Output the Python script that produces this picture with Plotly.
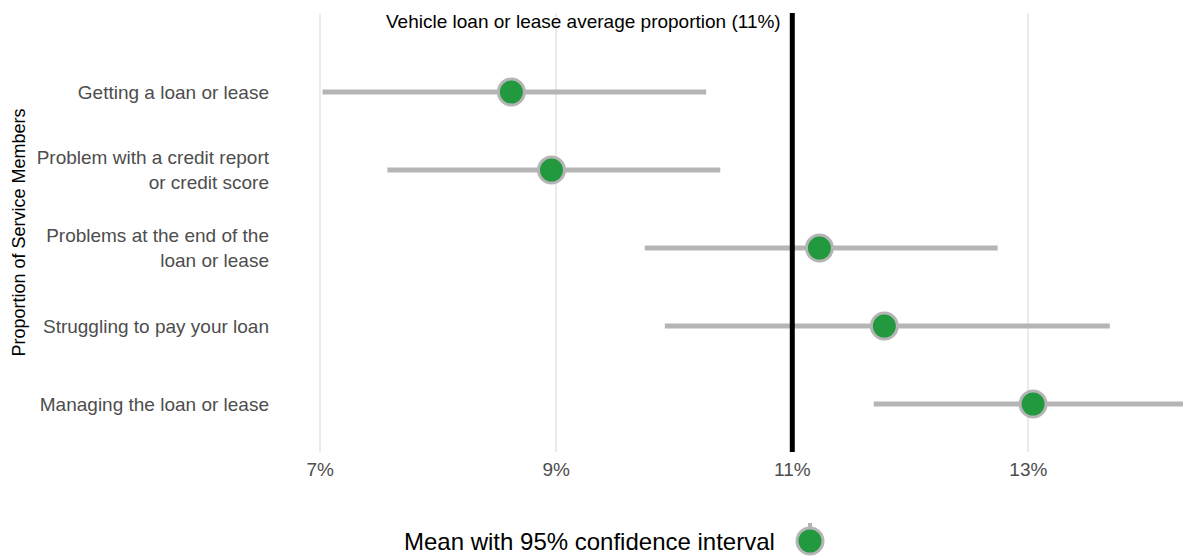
import plotly.graph_objects as go

categories = [
    "Getting a loan or lease",
    "Problem with a credit report<br>or credit score",
    "Problems at the end of the<br>loan or lease",
    "Struggling to pay your loan",
    "Managing the loan or lease",
]
means = [8.62, 8.96, 11.23, 11.78, 13.04]
lower = [7.02, 7.57, 9.75, 9.92, 11.69]
upper = [10.27, 10.39, 12.74, 13.69, 14.5]
average = 11.0
x_ticks = [7, 9, 11, 13]
x_tick_labels = [f"{v}%" for v in x_ticks]

positions = list(range(len(categories)))
err_plus = [u - m for u, m in zip(upper, means)]
err_minus = [m - l for m, l in zip(means, lower)]

FONT = "Liberation Sans, Arial, Helvetica, sans-serif"
GREEN = "#22983f"
GREY = "#b5b5b5"

W, H = 1183, 557
L, T = 280, 13
PW, PH = 903, 439
B = H - T - PH

fig = go.Figure()
fig.add_trace(go.Scatter(
    x=means, y=positions, mode="markers", name="",
    marker=dict(size=26, color=GREEN, line=dict(color=GREY, width=3)),
    error_x=dict(type="data", symmetric=False, array=err_plus, arrayminus=err_minus,
                 color=GREY, thickness=5, width=0),
    showlegend=False, cliponaxis=True,
))

fig.add_shape(type="line", x0=average, x1=average, xref="x", yref="paper", y0=0, y1=1,
              line=dict(color="black", width=5))

fig.add_annotation(x=average, y=-0.9, xref="x", yref="y", xanchor="right", yanchor="middle",
                   xshift=-9, text="Vehicle loan or lease average proportion (11%)",
                   showarrow=False, font=dict(family=FONT, size=19, color="black"))

fig.add_annotation(x=-(280 - 18) / PW, y=0.5, xref="paper", yref="paper", textangle=-90,
                   xanchor="center", yanchor="middle", text="Proportion of Service Members",
                   showarrow=False, font=dict(family=FONT, size=18, color="black"))

# legend (text then key), drawn below the panel
leg_y = -(541 - 452) / PH
key_x = (810 - 280) / PW
fig.add_annotation(x=(777 - 280) / PW, y=leg_y, xref="paper", yref="paper",
                   xanchor="right", yanchor="middle", text="Mean with 95% confidence interval",
                   showarrow=False, font=dict(family=FONT, size=24, color="black"))
fig.add_shape(type="line", xref="paper", yref="paper", xsizemode="pixel", ysizemode="pixel",
              xanchor=key_x, yanchor=leg_y, x0=0, x1=0, y0=10, y1=18,
              line=dict(color=GREY, width=4))
fig.add_shape(type="circle", xref="paper", yref="paper", xsizemode="pixel", ysizemode="pixel",
              xanchor=key_x, yanchor=leg_y, x0=-13, x1=13, y0=-13, y1=13,
              fillcolor=GREEN, line=dict(color=GREY, width=3))

fig.update_layout(
    width=W, height=H,
    margin=dict(l=L, r=0, t=T, b=B),
    paper_bgcolor="white", plot_bgcolor="white",
    font=dict(family=FONT, size=19, color="#4d4d4d"),
    showlegend=False,
    xaxis=dict(range=[6.66, 14.31], tickvals=x_ticks, ticktext=x_tick_labels, showgrid=True,
               gridcolor="#ebebeb", gridwidth=1.5, zeroline=False, showline=False,
               ticks="", ticklabelstandoff=4, tickfont=dict(size=19, color="#4d4d4d")),
    yaxis=dict(range=[4.615, -1.013], tickvals=positions, ticktext=categories,
               showgrid=False, zeroline=False, showline=False, ticks="",
               ticklabelstandoff=10, tickfont=dict(size=19, color="#4d4d4d")),
)

fig.write_html(
    "out.html",
    config={"displayModeBar": False},
    post_script="document.body.style.margin='0';document.body.style.overflow='hidden';",
)
